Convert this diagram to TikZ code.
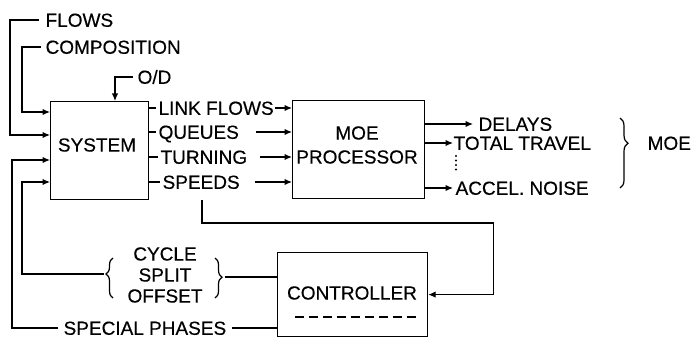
\documentclass[tikz,border=0pt]{standalone}
\usepackage{fontspec}
\setmainfont{Liberation Sans}[BoldFont=Liberation Sans,BoldFeatures={FakeBold=0.35}]
\usetikzlibrary{arrows.meta,decorations.pathreplacing,calc}
\begin{document}
\begin{tikzpicture}[x=1pt,y=-1pt,line width=1.2pt,
  arr/.style={-{Latex[length=7.5pt,width=6.5pt]}},
  lbl/.style={inner sep=0pt,anchor=west,text height=13.6pt,text depth=0pt,font=\fontsize{19}{21}\selectfont\bfseries},
  ctext/.style={inner sep=0pt,align=center,font=\fontsize{19}{24}\selectfont\bfseries},
  blk/.style={draw,line width=1.2pt,inner sep=0pt,anchor=north west},
  brc/.style={decorate,decoration={brace,amplitude=7pt}}]
\useasboundingbox (0,0) rectangle (692,339);
% boxes
\node[blk,minimum width=98pt,minimum height=98pt] (sys) at (50,101) {};
\node[blk,minimum width=132pt,minimum height=98pt] (moe) at (292,100) {};
\node[blk,minimum width=150pt,minimum height=84pt] (ctrl) at (277,252) {};
\node[ctext] (systxt) at (97,145) {SYSTEM};
\node[ctext] (moetxt) at (357,145) {MOE\\PROCESSOR};
\node[ctext] (ctrltxt) at (352,293) {CONTROLLER};
\draw[dash pattern=on 9pt off 5pt] (295,317) -- (417,317);
% labels
\node[lbl] (flows) at (45,20) {FLOWS};
\node[lbl] (comp) at (45,47) {COMPOSITION};
\node[lbl] (od) at (137,77) {O/D};
\node[lbl] (linkflows) at (158,108) {LINK FLOWS};
\node[lbl] (queues) at (158,132) {QUEUES};
\node[lbl] (turning) at (160,157) {TURNING};
\node[lbl] (speeds) at (162,182) {SPEEDS};
\node[lbl] (delays) at (478,124) {DELAYS};
\node[lbl] (total) at (453,143) {TOTAL TRAVEL};
\node[lbl] (accel) at (455,188) {ACCEL. NOISE};
\node[lbl] (moelbl) at (647,143) {MOE};
\node[ctext,font=\fontsize{19}{21}\selectfont\bfseries] (csplit) at (165,275) {CYCLE\\SPLIT\\OFFSET};
\node[lbl] (special) at (63,328) {SPECIAL PHASES};
% entry points on SYSTEM
\coordinate (in1) at ([yshift=-11pt]sys.north west);
\coordinate (in2) at ([yshift=-34pt]sys.north west);
\coordinate (in3) at ([yshift=-59pt]sys.north west);
\coordinate (in4) at ([yshift=-81pt]sys.north west);
\coordinate (odin) at ([xshift=65pt]sys.north west);
% inputs
\draw[arr] ([xshift=-6pt]flows.west) -| ([xshift=-40pt]in2) -- (in2);
\draw[arr] ([xshift=-4pt]comp.west) -| ([xshift=-28pt]in1) -- (in1);
\draw[arr] ([xshift=-4pt]od.west) -| (odin);
% outputs of SYSTEM
\foreach \n/\s in {linkflows/-17,queues/-36,turning/-32,speeds/-37}{
  \draw (sys.east |- \n.west) -- ([xshift=-2pt]\n.west);
  \draw[arr] ([xshift=\s pt]moe.west |- \n.west) -- (moe.west |- \n.west);
}
% MOE outputs
\draw[arr] (moe.east |- delays.west) -- ([xshift=-5pt]delays.west);
\draw[arr] (moe.east |- total.west) -- ([xshift=0pt]total.west);
\draw[arr] (moe.east |- accel.west) -- ([xshift=-2pt]accel.west);
\draw[line width=2.2pt,line cap=round,dash pattern=on 0pt off 4.5pt] (456,156) -- (456,173);
\draw[brc,decoration={aspect=0.36,amplitude=8pt}] (620,118) -- (620,188);
% speeds to controller
\coordinate (spd) at (202,200);
\draw[arr] (spd) -- (202,223) -| ([xshift=65pt]ctrl.east) -- (ctrl.east);
% cycle / split / offset
\draw[brc,decoration={aspect=0.6}] (113,298) -- (113,258);
\draw[brc,decoration={aspect=0.48}] (215,258) -- (215,298);
\coordinate (lbt) at (104,274);
\coordinate (rbt) at (225,277);
\draw[arr] (lbt) -| ([xshift=-28pt]in4) -- (in4);
\draw (ctrl.west |- rbt) -- (rbt);
% special phases
\draw[arr] ([xshift=-5pt]special.west) -| ([xshift=-38pt]in3) -- (in3);
\draw (ctrl.west |- special.west) -- ([xshift=5pt]special.east);
\end{tikzpicture}
\end{document}
